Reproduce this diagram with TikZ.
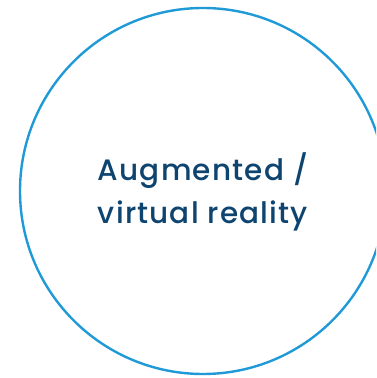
\documentclass[tikz,border=0pt]{standalone}
\usepackage{fontspec}
\setmainfont{Poppins}
\newfontfamily\labelfont[LetterSpace=4]{Poppins Medium}
\usepackage{tikz}
\definecolor{ringblue}{HTML}{1F9AD7}
\definecolor{textblue}{HTML}{0E4470}

\begin{document}
\begin{tikzpicture}[x=1pt, y=1pt]
		\useasboundingbox (0, 0) rectangle (376, 378);
		\clip (0, 0) rectangle (376, 378);
		\node[circle, draw=ringblue, line width=2.4pt, minimum size=366pt, inner sep=0pt] at (203, 187) (ring) {};
		\node[align=center, text=textblue, font=\labelfont\fontsize{29.5}{43}\selectfont] at (203, 186) (label) {Augmented /\\virtual reality};
	\end{tikzpicture}
\end{document}
